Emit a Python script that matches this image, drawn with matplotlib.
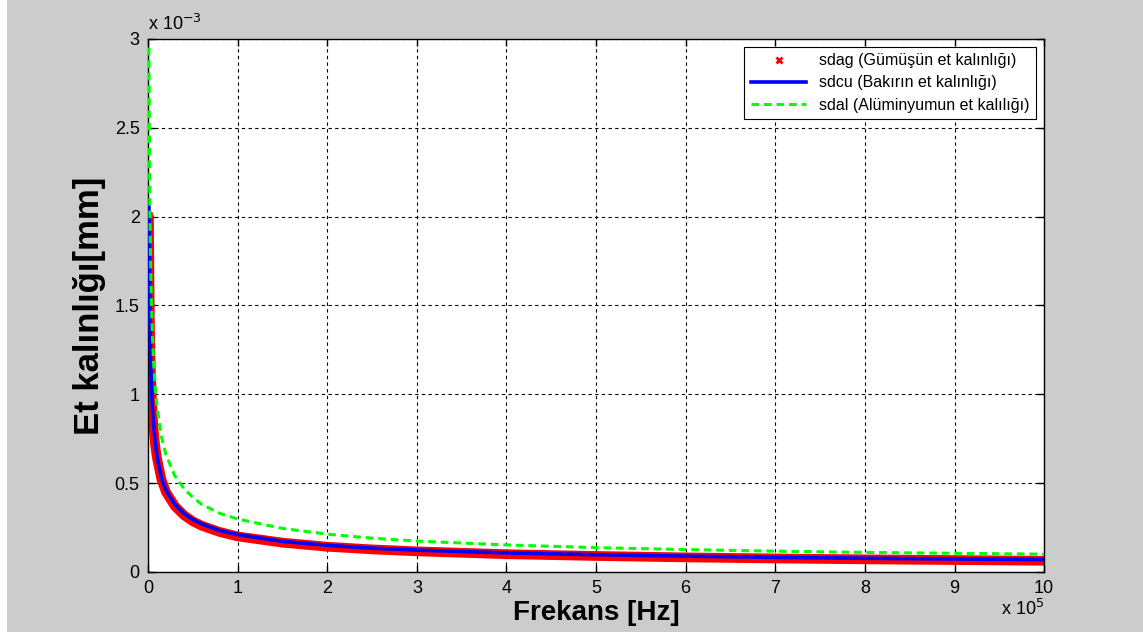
import numpy as np
import matplotlib.pyplot as plt
from matplotlib.patches import Rectangle

plt.rcParams['font.family'] = ['Liberation Sans', 'DejaVu Sans']

# Frekans (x 1e5 Hz) ve et kalinliklari (x 1e-3)
frekans = [0.01, 0.02, 0.03, 0.04, 0.05, 0.06, 0.08, 0.1, 0.15, 0.2, 0.3, 0.4,
           0.5, 0.6, 0.8, 1.0, 1.5, 2.0, 2.5, 3.0, 4.0, 5.0, 6.0, 7.0, 8.0, 9.0, 10.0]
sdag = [2.01, 1.42, 1.16, 1.00, 0.90, 0.82, 0.71, 0.64, 0.52, 0.45, 0.37, 0.32,
        0.285, 0.26, 0.225, 0.20, 0.165, 0.142, 0.127, 0.116, 0.100, 0.090,
        0.082, 0.076, 0.071, 0.067, 0.063]
sdcu = [2.07, 1.46, 1.19, 1.03, 0.92, 0.84, 0.73, 0.65, 0.53, 0.46, 0.38, 0.33,
        0.295, 0.27, 0.233, 0.21, 0.172, 0.150, 0.134, 0.123, 0.107, 0.097,
        0.089, 0.082, 0.077, 0.073, 0.070]
sdal = [2.95, 2.09, 1.70, 1.48, 1.32, 1.20, 1.04, 0.93, 0.76, 0.66, 0.54, 0.47,
        0.42, 0.38, 0.33, 0.298, 0.245, 0.213, 0.19, 0.174, 0.152, 0.137,
        0.126, 0.117, 0.110, 0.105, 0.100]

f = np.array(frekans)

fig = plt.figure(figsize=(11.43, 6.32), dpi=100, facecolor='#cccccc')
fig.patches.append(Rectangle((0, 0), 7 / 1143, 1, transform=fig.transFigure,
                             facecolor='white', edgecolor='none'))
ax = fig.add_axes([0.1295, 0.095, 0.784, 0.8435])

# gumus: kalin kirmizi bant + x isaretleri
ax.plot(f, sdag, color='red', lw=7, solid_capstyle='butt', zorder=2)
ax.plot(f, sdag, 'x', color='red', ms=5, mew=2, zorder=2,
        label='sdag (Gümüşün et kalınlığı)')
ax.plot(f, sdcu, '-', color='blue', lw=2.6, zorder=3,
        label='sdcu (Bakırın et kalınlığı)')
ax.plot(f, sdal, '--', color='#00ff00', lw=2.2, dashes=(2.5, 1.6), zorder=4,
        label='sdal (Alüminyumun et kalılığı)')

ax.set_xlim(0, 10)
ax.set_ylim(0, 3)
ax.set_xticks(range(0, 11))
ax.set_yticks([0, 0.5, 1, 1.5, 2, 2.5, 3])
ax.set_yticklabels(['0', '0.5', '1', '1.5', '2', '2.5', '3'])
ax.tick_params(direction='in', length=5, width=1, top=True, right=True,
               labelsize=13, pad=6)
ax.grid(True, color='black', linestyle=(0, (3, 3)), lw=0.8)
for s in ax.spines.values():
    s.set_linewidth(1)

ax.set_xlabel('Frekans [Hz]', fontsize=20, fontweight='bold', labelpad=2)
ax.set_ylabel('Et kalınlığı[mm]', fontsize=25, fontweight='bold', labelpad=6)

ax.text(0.0, 1.01, r'x 10$^{-3}$', transform=ax.transAxes, fontsize=13,
        ha='left', va='bottom')
ax.text(1.0, -0.05, r'x 10$^{5}$', transform=ax.transAxes, fontsize=13,
        ha='right', va='top')

leg = ax.legend(loc='upper right', fontsize=11.5, frameon=True, fancybox=False,
                edgecolor='black', framealpha=1, borderpad=0.4,
                handlelength=3.5, labelspacing=0.45, bbox_to_anchor=(1.0, 1.0))
leg.get_frame().set_linewidth(0.8)

fig.savefig('out.png', dpi=100, facecolor=fig.get_facecolor())
